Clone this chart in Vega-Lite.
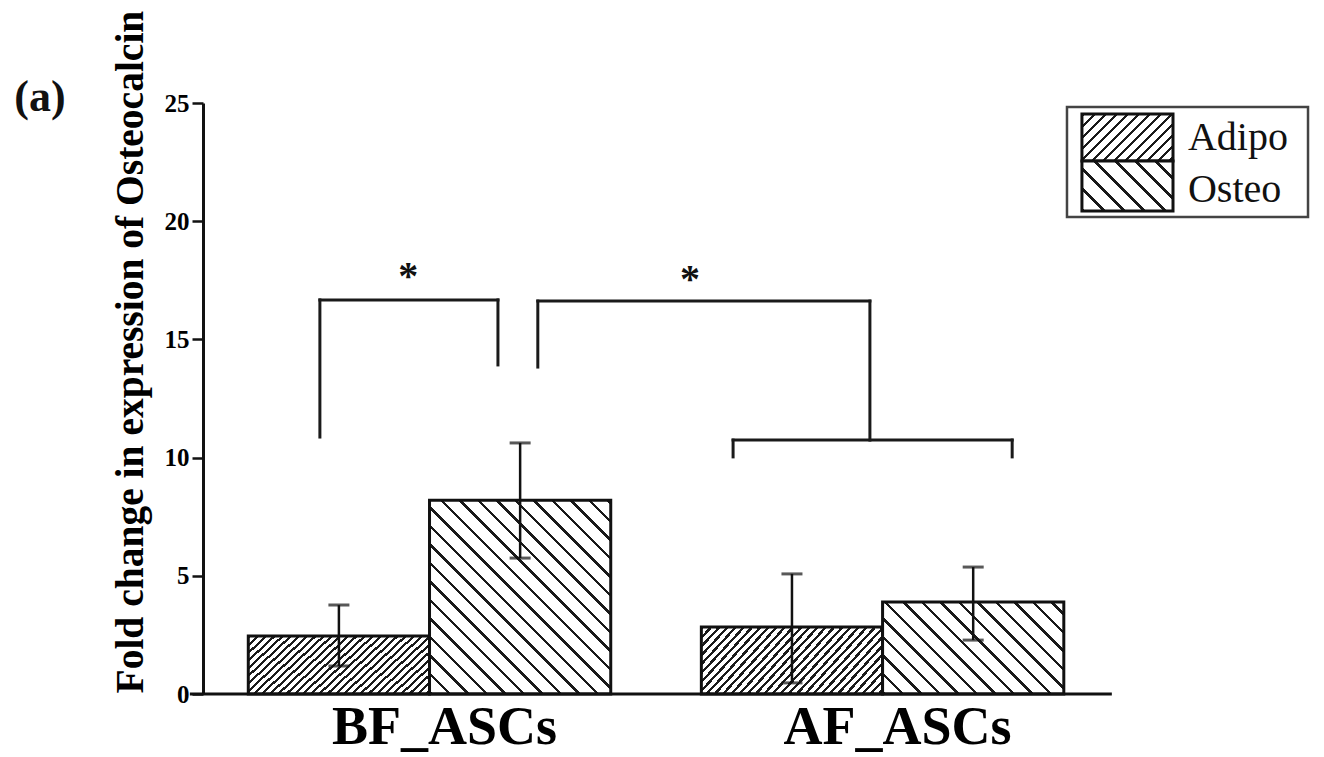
{
  "$schema": "https://vega.github.io/schema/vega-lite/v6.json",
  "width": 1110,
  "height": 591,
  "autosize": {"type": "none"},
  "padding": {"left": 203, "top": 103, "right": 11, "bottom": 63},
  "background": "white",
  "config": {"view": {"stroke": null}, "font": "Liberation Serif", "axis": {"grid": false}},
  "datasets": {
    "bars": [
      {"cond": "BF_ASCs", "group": "Adipo", "mean": 2.45, "lo": 1.18, "hi": 3.76},
      {"cond": "BF_ASCs", "group": "Osteo", "mean": 8.2, "lo": 5.75, "hi": 10.62},
      {"cond": "AF_ASCs", "group": "Adipo", "mean": 2.83, "lo": 0.47, "hi": 5.08},
      {"cond": "AF_ASCs", "group": "Osteo", "mean": 3.89, "lo": 2.28, "hi": 5.37}
    ],
    "brackets": [
      {"x": 0.758, "x2": 0.758, "y": 10.87, "y2": 16.67},
      {"x": 0.758, "x2": 1.151, "y": 16.67, "y2": 16.67},
      {"x": 1.151, "x2": 1.151, "y": 16.67, "y2": 13.92},
      {"x": 1.239, "x2": 1.239, "y": 13.83, "y2": 16.62},
      {"x": 1.239, "x2": 1.972, "y": 16.62, "y2": 16.62},
      {"x": 1.972, "x2": 1.972, "y": 16.62, "y2": 10.74},
      {"x": 1.670, "x2": 2.286, "y": 10.74, "y2": 10.74},
      {"x": 1.670, "x2": 1.670, "y": 10.74, "y2": 10.03},
      {"x": 2.286, "x2": 2.286, "y": 10.74, "y2": 10.03}
    ],
    "stars": [
      {"x": 0.953, "y": 17.15, "t": "*"},
      {"x": 1.575, "y": 17.0, "t": "*"}
    ]
  },
  "resolve": {"scale": {"x": "independent"}, "axis": {"x": "independent", "y": "independent"}},
  "layer": [
    {
      "data": {"name": "bars"},
      "transform": [{"filter": "datum.group == 'Adipo'"}],
      "mark": {"type": "bar", "stroke": "#111", "strokeWidth": 3, "fill": {"gradient": "linear", "x1": 0, "y1": 0, "x2": 1.2153, "y2": 0.4158, "stops": [
        {"offset": 0, "color": "#1a1a1a"}, {"offset": 0.013, "color": "#1a1a1a"}, {"offset": 0.013, "color": "#fff"},
        {"offset": 0.03333, "color": "#fff"}, {"offset": 0.03333, "color": "#1a1a1a"}, {"offset": 0.04633, "color": "#1a1a1a"}, {"offset": 0.04633, "color": "#fff"},
        {"offset": 0.06667, "color": "#fff"}, {"offset": 0.06667, "color": "#1a1a1a"}, {"offset": 0.07967, "color": "#1a1a1a"}, {"offset": 0.07967, "color": "#fff"},
        {"offset": 0.1, "color": "#fff"}, {"offset": 0.1, "color": "#1a1a1a"}, {"offset": 0.113, "color": "#1a1a1a"}, {"offset": 0.113, "color": "#fff"},
        {"offset": 0.13333, "color": "#fff"}, {"offset": 0.13333, "color": "#1a1a1a"}, {"offset": 0.14633, "color": "#1a1a1a"}, {"offset": 0.14633, "color": "#fff"},
        {"offset": 0.16667, "color": "#fff"}, {"offset": 0.16667, "color": "#1a1a1a"}, {"offset": 0.17967, "color": "#1a1a1a"}, {"offset": 0.17967, "color": "#fff"},
        {"offset": 0.2, "color": "#fff"}, {"offset": 0.2, "color": "#1a1a1a"}, {"offset": 0.213, "color": "#1a1a1a"}, {"offset": 0.213, "color": "#fff"},
        {"offset": 0.23333, "color": "#fff"}, {"offset": 0.23333, "color": "#1a1a1a"}, {"offset": 0.24633, "color": "#1a1a1a"}, {"offset": 0.24633, "color": "#fff"},
        {"offset": 0.26667, "color": "#fff"}, {"offset": 0.26667, "color": "#1a1a1a"}, {"offset": 0.27967, "color": "#1a1a1a"}, {"offset": 0.27967, "color": "#fff"},
        {"offset": 0.3, "color": "#fff"}, {"offset": 0.3, "color": "#1a1a1a"}, {"offset": 0.313, "color": "#1a1a1a"}, {"offset": 0.313, "color": "#fff"},
        {"offset": 0.33333, "color": "#fff"}, {"offset": 0.33333, "color": "#1a1a1a"}, {"offset": 0.34633, "color": "#1a1a1a"}, {"offset": 0.34633, "color": "#fff"},
        {"offset": 0.36667, "color": "#fff"}, {"offset": 0.36667, "color": "#1a1a1a"}, {"offset": 0.37967, "color": "#1a1a1a"}, {"offset": 0.37967, "color": "#fff"},
        {"offset": 0.4, "color": "#fff"}, {"offset": 0.4, "color": "#1a1a1a"}, {"offset": 0.413, "color": "#1a1a1a"}, {"offset": 0.413, "color": "#fff"},
        {"offset": 0.43333, "color": "#fff"}, {"offset": 0.43333, "color": "#1a1a1a"}, {"offset": 0.44633, "color": "#1a1a1a"}, {"offset": 0.44633, "color": "#fff"},
        {"offset": 0.46667, "color": "#fff"}, {"offset": 0.46667, "color": "#1a1a1a"}, {"offset": 0.47967, "color": "#1a1a1a"}, {"offset": 0.47967, "color": "#fff"},
        {"offset": 0.5, "color": "#fff"}, {"offset": 0.5, "color": "#1a1a1a"}, {"offset": 0.513, "color": "#1a1a1a"}, {"offset": 0.513, "color": "#fff"},
        {"offset": 0.53333, "color": "#fff"}, {"offset": 0.53333, "color": "#1a1a1a"}, {"offset": 0.54633, "color": "#1a1a1a"}, {"offset": 0.54633, "color": "#fff"},
        {"offset": 0.56667, "color": "#fff"}, {"offset": 0.56667, "color": "#1a1a1a"}, {"offset": 0.57967, "color": "#1a1a1a"}, {"offset": 0.57967, "color": "#fff"},
        {"offset": 0.6, "color": "#fff"}, {"offset": 0.6, "color": "#1a1a1a"}, {"offset": 0.613, "color": "#1a1a1a"}, {"offset": 0.613, "color": "#fff"},
        {"offset": 0.63333, "color": "#fff"}, {"offset": 0.63333, "color": "#1a1a1a"}, {"offset": 0.64633, "color": "#1a1a1a"}, {"offset": 0.64633, "color": "#fff"},
        {"offset": 0.66667, "color": "#fff"}, {"offset": 0.66667, "color": "#1a1a1a"}, {"offset": 0.67967, "color": "#1a1a1a"}, {"offset": 0.67967, "color": "#fff"},
        {"offset": 0.7, "color": "#fff"}, {"offset": 0.7, "color": "#1a1a1a"}, {"offset": 0.713, "color": "#1a1a1a"}, {"offset": 0.713, "color": "#fff"},
        {"offset": 0.73333, "color": "#fff"}, {"offset": 0.73333, "color": "#1a1a1a"}, {"offset": 0.74633, "color": "#1a1a1a"}, {"offset": 0.74633, "color": "#fff"},
        {"offset": 0.76667, "color": "#fff"}, {"offset": 0.76667, "color": "#1a1a1a"}, {"offset": 0.77967, "color": "#1a1a1a"}, {"offset": 0.77967, "color": "#fff"},
        {"offset": 0.8, "color": "#fff"}, {"offset": 0.8, "color": "#1a1a1a"}, {"offset": 0.813, "color": "#1a1a1a"}, {"offset": 0.813, "color": "#fff"},
        {"offset": 0.83333, "color": "#fff"}, {"offset": 0.83333, "color": "#1a1a1a"}, {"offset": 0.84633, "color": "#1a1a1a"}, {"offset": 0.84633, "color": "#fff"},
        {"offset": 0.86667, "color": "#fff"}, {"offset": 0.86667, "color": "#1a1a1a"}, {"offset": 0.87967, "color": "#1a1a1a"}, {"offset": 0.87967, "color": "#fff"},
        {"offset": 0.9, "color": "#fff"}, {"offset": 0.9, "color": "#1a1a1a"}, {"offset": 0.913, "color": "#1a1a1a"}, {"offset": 0.913, "color": "#fff"},
        {"offset": 0.93333, "color": "#fff"}, {"offset": 0.93333, "color": "#1a1a1a"}, {"offset": 0.94633, "color": "#1a1a1a"}, {"offset": 0.94633, "color": "#fff"},
        {"offset": 0.96667, "color": "#fff"}, {"offset": 0.96667, "color": "#1a1a1a"}, {"offset": 0.97967, "color": "#1a1a1a"}, {"offset": 0.97967, "color": "#fff"},
        {"offset": 1, "color": "#fff"}
      ]}},
      "encoding": {
        "x": {"field": "cond", "type": "nominal", "scale": {"domain": ["BF_ASCs", "AF_ASCs"], "paddingInner": 0.2, "paddingOuter": 0.325, "align": 0.1538, "round": false},
          "axis": {"title": null, "domain": false, "ticks": false, "tickSize": 0, "labelAngle": 0, "labelFont": "Liberation Serif", "labelFontSize": 54, "labelFontWeight": "bold", "labelColor": "#000", "labelPadding": 6, "labelOffset": 15, "labelLimit": 0, "labelOverlap": false, "labelBound": false, "labelFlush": false}},
        "xOffset": {"field": "group", "type": "nominal", "scale": {"domain": ["Adipo", "Osteo"], "paddingInner": 0, "paddingOuter": 0}},
        "y": {"field": "mean", "type": "quantitative", "scale": {"domain": [0, 25], "nice": false},
          "axis": {"title": "Fold change in expression of Osteocalcin", "values": [0, 5, 10, 15, 20, 25], "titleFont": "Liberation Serif", "titleFontSize": 39.5, "titleFontWeight": "bold", "titleColor": "#000", "titleAngle": 270, "titleX": -73, "titleY": 590, "titleAlign": "left", "titleBaseline": "middle", "titleLimit": 0,
            "labelFont": "Liberation Serif", "labelFontSize": 25, "labelFontWeight": "bold", "labelColor": "#000", "labelPadding": 3, "tickSize": 11, "tickWidth": 2.5, "tickColor": "#111", "domainColor": "#111", "domainWidth": 3}}
      }
    },
    {
      "data": {"name": "bars"},
      "transform": [{"filter": "datum.group == 'Osteo' && datum.cond == 'BF_ASCs'"}],
      "mark": {"type": "bar", "stroke": "#111", "strokeWidth": 3, "fill": {"gradient": "linear", "x1": 0, "y1": 1, "x2": 1.0, "y2": -0.0695, "stops": [
        {"offset": 0, "color": "#1a1a1a"}, {"offset": 0.0095, "color": "#1a1a1a"}, {"offset": 0.0095, "color": "#fff"},
        {"offset": 0.04762, "color": "#fff"}, {"offset": 0.04762, "color": "#1a1a1a"}, {"offset": 0.05712, "color": "#1a1a1a"}, {"offset": 0.05712, "color": "#fff"},
        {"offset": 0.09524, "color": "#fff"}, {"offset": 0.09524, "color": "#1a1a1a"}, {"offset": 0.10474, "color": "#1a1a1a"}, {"offset": 0.10474, "color": "#fff"},
        {"offset": 0.14286, "color": "#fff"}, {"offset": 0.14286, "color": "#1a1a1a"}, {"offset": 0.15236, "color": "#1a1a1a"}, {"offset": 0.15236, "color": "#fff"},
        {"offset": 0.19048, "color": "#fff"}, {"offset": 0.19048, "color": "#1a1a1a"}, {"offset": 0.19998, "color": "#1a1a1a"}, {"offset": 0.19998, "color": "#fff"},
        {"offset": 0.2381, "color": "#fff"}, {"offset": 0.2381, "color": "#1a1a1a"}, {"offset": 0.2476, "color": "#1a1a1a"}, {"offset": 0.2476, "color": "#fff"},
        {"offset": 0.28571, "color": "#fff"}, {"offset": 0.28571, "color": "#1a1a1a"}, {"offset": 0.29521, "color": "#1a1a1a"}, {"offset": 0.29521, "color": "#fff"},
        {"offset": 0.33333, "color": "#fff"}, {"offset": 0.33333, "color": "#1a1a1a"}, {"offset": 0.34283, "color": "#1a1a1a"}, {"offset": 0.34283, "color": "#fff"},
        {"offset": 0.38095, "color": "#fff"}, {"offset": 0.38095, "color": "#1a1a1a"}, {"offset": 0.39045, "color": "#1a1a1a"}, {"offset": 0.39045, "color": "#fff"},
        {"offset": 0.42857, "color": "#fff"}, {"offset": 0.42857, "color": "#1a1a1a"}, {"offset": 0.43807, "color": "#1a1a1a"}, {"offset": 0.43807, "color": "#fff"},
        {"offset": 0.47619, "color": "#fff"}, {"offset": 0.47619, "color": "#1a1a1a"}, {"offset": 0.48569, "color": "#1a1a1a"}, {"offset": 0.48569, "color": "#fff"},
        {"offset": 0.52381, "color": "#fff"}, {"offset": 0.52381, "color": "#1a1a1a"}, {"offset": 0.53331, "color": "#1a1a1a"}, {"offset": 0.53331, "color": "#fff"},
        {"offset": 0.57143, "color": "#fff"}, {"offset": 0.57143, "color": "#1a1a1a"}, {"offset": 0.58093, "color": "#1a1a1a"}, {"offset": 0.58093, "color": "#fff"},
        {"offset": 0.61905, "color": "#fff"}, {"offset": 0.61905, "color": "#1a1a1a"}, {"offset": 0.62855, "color": "#1a1a1a"}, {"offset": 0.62855, "color": "#fff"},
        {"offset": 0.66667, "color": "#fff"}, {"offset": 0.66667, "color": "#1a1a1a"}, {"offset": 0.67617, "color": "#1a1a1a"}, {"offset": 0.67617, "color": "#fff"},
        {"offset": 0.71429, "color": "#fff"}, {"offset": 0.71429, "color": "#1a1a1a"}, {"offset": 0.72379, "color": "#1a1a1a"}, {"offset": 0.72379, "color": "#fff"},
        {"offset": 0.7619, "color": "#fff"}, {"offset": 0.7619, "color": "#1a1a1a"}, {"offset": 0.7714, "color": "#1a1a1a"}, {"offset": 0.7714, "color": "#fff"},
        {"offset": 0.80952, "color": "#fff"}, {"offset": 0.80952, "color": "#1a1a1a"}, {"offset": 0.81902, "color": "#1a1a1a"}, {"offset": 0.81902, "color": "#fff"},
        {"offset": 0.85714, "color": "#fff"}, {"offset": 0.85714, "color": "#1a1a1a"}, {"offset": 0.86664, "color": "#1a1a1a"}, {"offset": 0.86664, "color": "#fff"},
        {"offset": 0.90476, "color": "#fff"}, {"offset": 0.90476, "color": "#1a1a1a"}, {"offset": 0.91426, "color": "#1a1a1a"}, {"offset": 0.91426, "color": "#fff"},
        {"offset": 0.95238, "color": "#fff"}, {"offset": 0.95238, "color": "#1a1a1a"}, {"offset": 0.96188, "color": "#1a1a1a"}, {"offset": 0.96188, "color": "#fff"},
        {"offset": 1, "color": "#fff"}
      ]}},
      "encoding": {
        "x": {"field": "cond", "type": "nominal", "scale": {"domain": ["BF_ASCs", "AF_ASCs"], "paddingInner": 0.2, "paddingOuter": 0.325, "align": 0.1538, "round": false}, "axis": null},
        "xOffset": {"field": "group", "type": "nominal", "scale": {"domain": ["Adipo", "Osteo"], "paddingInner": 0, "paddingOuter": 0}},
        "y": {"field": "mean", "type": "quantitative", "scale": {"domain": [0, 25], "nice": false}, "axis": null}
      }
    },
    {
      "data": {"name": "bars"},
      "transform": [{"filter": "datum.group == 'Osteo' && datum.cond == 'AF_ASCs'"}],
      "mark": {"type": "bar", "stroke": "#111", "strokeWidth": 3, "fill": {"gradient": "linear", "x1": 0, "y1": 1, "x2": 1.2176, "y2": 0.3818, "stops": [
        {"offset": 0, "color": "#1a1a1a"}, {"offset": 0.0133, "color": "#1a1a1a"}, {"offset": 0.0133, "color": "#fff"},
        {"offset": 0.06667, "color": "#fff"}, {"offset": 0.06667, "color": "#1a1a1a"}, {"offset": 0.07997, "color": "#1a1a1a"}, {"offset": 0.07997, "color": "#fff"},
        {"offset": 0.13333, "color": "#fff"}, {"offset": 0.13333, "color": "#1a1a1a"}, {"offset": 0.14663, "color": "#1a1a1a"}, {"offset": 0.14663, "color": "#fff"},
        {"offset": 0.2, "color": "#fff"}, {"offset": 0.2, "color": "#1a1a1a"}, {"offset": 0.2133, "color": "#1a1a1a"}, {"offset": 0.2133, "color": "#fff"},
        {"offset": 0.26667, "color": "#fff"}, {"offset": 0.26667, "color": "#1a1a1a"}, {"offset": 0.27997, "color": "#1a1a1a"}, {"offset": 0.27997, "color": "#fff"},
        {"offset": 0.33333, "color": "#fff"}, {"offset": 0.33333, "color": "#1a1a1a"}, {"offset": 0.34663, "color": "#1a1a1a"}, {"offset": 0.34663, "color": "#fff"},
        {"offset": 0.4, "color": "#fff"}, {"offset": 0.4, "color": "#1a1a1a"}, {"offset": 0.4133, "color": "#1a1a1a"}, {"offset": 0.4133, "color": "#fff"},
        {"offset": 0.46667, "color": "#fff"}, {"offset": 0.46667, "color": "#1a1a1a"}, {"offset": 0.47997, "color": "#1a1a1a"}, {"offset": 0.47997, "color": "#fff"},
        {"offset": 0.53333, "color": "#fff"}, {"offset": 0.53333, "color": "#1a1a1a"}, {"offset": 0.54663, "color": "#1a1a1a"}, {"offset": 0.54663, "color": "#fff"},
        {"offset": 0.6, "color": "#fff"}, {"offset": 0.6, "color": "#1a1a1a"}, {"offset": 0.6133, "color": "#1a1a1a"}, {"offset": 0.6133, "color": "#fff"},
        {"offset": 0.66667, "color": "#fff"}, {"offset": 0.66667, "color": "#1a1a1a"}, {"offset": 0.67997, "color": "#1a1a1a"}, {"offset": 0.67997, "color": "#fff"},
        {"offset": 0.73333, "color": "#fff"}, {"offset": 0.73333, "color": "#1a1a1a"}, {"offset": 0.74663, "color": "#1a1a1a"}, {"offset": 0.74663, "color": "#fff"},
        {"offset": 0.8, "color": "#fff"}, {"offset": 0.8, "color": "#1a1a1a"}, {"offset": 0.8133, "color": "#1a1a1a"}, {"offset": 0.8133, "color": "#fff"},
        {"offset": 0.86667, "color": "#fff"}, {"offset": 0.86667, "color": "#1a1a1a"}, {"offset": 0.87997, "color": "#1a1a1a"}, {"offset": 0.87997, "color": "#fff"},
        {"offset": 0.93333, "color": "#fff"}, {"offset": 0.93333, "color": "#1a1a1a"}, {"offset": 0.94663, "color": "#1a1a1a"}, {"offset": 0.94663, "color": "#fff"},
        {"offset": 1, "color": "#fff"}
      ]}},
      "encoding": {
        "x": {"field": "cond", "type": "nominal", "scale": {"domain": ["BF_ASCs", "AF_ASCs"], "paddingInner": 0.2, "paddingOuter": 0.325, "align": 0.1538, "round": false}, "axis": null},
        "xOffset": {"field": "group", "type": "nominal", "scale": {"domain": ["Adipo", "Osteo"], "paddingInner": 0, "paddingOuter": 0}},
        "y": {"field": "mean", "type": "quantitative", "scale": {"domain": [0, 25], "nice": false}, "axis": null}
      }
    },
    {
      "data": {"name": "bars"},
      "mark": {"type": "rule", "stroke": "#111", "strokeWidth": 2.5},
      "encoding": {
        "x": {"field": "cond", "type": "nominal", "scale": {"domain": ["BF_ASCs", "AF_ASCs"], "paddingInner": 0.2, "paddingOuter": 0.325, "align": 0.1538, "round": false}, "axis": null},
        "xOffset": {"field": "group", "type": "nominal", "scale": {"domain": ["Adipo", "Osteo"], "paddingInner": 0, "paddingOuter": 0}},
        "y": {"field": "lo", "type": "quantitative", "scale": {"domain": [0, 25], "nice": false}, "axis": null},
        "y2": {"field": "hi"}
      }
    },
    {
      "data": {"name": "bars"},
      "mark": {"type": "tick", "orient": "horizontal", "size": 21, "thickness": 3, "color": "#111"},
      "encoding": {
        "x": {"field": "cond", "type": "nominal", "scale": {"domain": ["BF_ASCs", "AF_ASCs"], "paddingInner": 0.2, "paddingOuter": 0.325, "align": 0.1538, "round": false}, "axis": null},
        "xOffset": {"field": "group", "type": "nominal", "scale": {"domain": ["Adipo", "Osteo"], "paddingInner": 0, "paddingOuter": 0}},
        "y": {"field": "hi", "type": "quantitative", "scale": {"domain": [0, 25], "nice": false}, "axis": null}
      }
    },
    {
      "data": {"name": "bars"},
      "mark": {"type": "tick", "orient": "horizontal", "size": 21, "thickness": 3, "color": "#111"},
      "encoding": {
        "x": {"field": "cond", "type": "nominal", "scale": {"domain": ["BF_ASCs", "AF_ASCs"], "paddingInner": 0.2, "paddingOuter": 0.325, "align": 0.1538, "round": false}, "axis": null},
        "xOffset": {"field": "group", "type": "nominal", "scale": {"domain": ["Adipo", "Osteo"], "paddingInner": 0, "paddingOuter": 0}},
        "y": {"field": "lo", "type": "quantitative", "scale": {"domain": [0, 25], "nice": false}, "axis": null}
      }
    },
    {
      "data": {"values": [{}]},
      "mark": {"type": "rule", "stroke": "#111", "strokeWidth": 3},
      "encoding": {
        "x": {"datum": 0.471, "type": "quantitative", "scale": {"domain": [0.5, 2.95], "nice": false, "zero": false}, "axis": null},
        "x2": {"datum": 2.506},
        "y": {"datum": 0, "type": "quantitative", "scale": {"domain": [0, 25], "nice": false}, "axis": null}
      }
    },
    {
      "data": {"name": "brackets"},
      "mark": {"type": "rule", "stroke": "#1a1a1a", "strokeWidth": 3, "strokeCap": "square"},
      "encoding": {
        "x": {"field": "x", "type": "quantitative", "scale": {"domain": [0.5, 2.95], "nice": false, "zero": false}, "axis": null},
        "x2": {"field": "x2"},
        "y": {"field": "y", "type": "quantitative", "scale": {"domain": [0, 25], "nice": false}, "axis": null},
        "y2": {"field": "y2"}
      }
    },
    {
      "data": {"name": "stars"},
      "mark": {"type": "text", "font": "Liberation Serif", "fontSize": 40, "fontWeight": "bold", "color": "#111", "align": "center", "baseline": "alphabetic"},
      "encoding": {
        "x": {"field": "x", "type": "quantitative", "scale": {"domain": [0.5, 2.95], "nice": false, "zero": false}, "axis": null},
        "y": {"field": "y", "type": "quantitative", "scale": {"domain": [0, 25], "nice": false}, "axis": null},
        "text": {"field": "t"}
      }
    },
    {
      "data": {"values": [{}]},
      "mark": {"type": "rect", "fill": "#fff", "stroke": "#444", "strokeWidth": 2.5},
      "encoding": {
        "x": {"datum": 2.407, "type": "quantitative", "scale": {"domain": [0.5, 2.95], "nice": false, "zero": false}, "axis": null},
        "x2": {"datum": 2.939},
        "y": {"datum": 24.83, "type": "quantitative", "scale": {"domain": [0, 25], "nice": false}, "axis": null},
        "y2": {"datum": 20.18}
      }
    },
    {
      "data": {"values": [{}]},
      "mark": {"type": "rect", "stroke": "#111", "strokeWidth": 3, "fill": {"gradient": "linear", "x1": 0, "y1": 0, "x2": 1.2428, "y2": 0.6391, "stops": [
        {"offset": 0, "color": "#1a1a1a"}, {"offset": 0.027, "color": "#1a1a1a"}, {"offset": 0.027, "color": "#fff"},
        {"offset": 0.07692, "color": "#fff"}, {"offset": 0.07692, "color": "#1a1a1a"}, {"offset": 0.10392, "color": "#1a1a1a"}, {"offset": 0.10392, "color": "#fff"},
        {"offset": 0.15385, "color": "#fff"}, {"offset": 0.15385, "color": "#1a1a1a"}, {"offset": 0.18085, "color": "#1a1a1a"}, {"offset": 0.18085, "color": "#fff"},
        {"offset": 0.23077, "color": "#fff"}, {"offset": 0.23077, "color": "#1a1a1a"}, {"offset": 0.25777, "color": "#1a1a1a"}, {"offset": 0.25777, "color": "#fff"},
        {"offset": 0.30769, "color": "#fff"}, {"offset": 0.30769, "color": "#1a1a1a"}, {"offset": 0.33469, "color": "#1a1a1a"}, {"offset": 0.33469, "color": "#fff"},
        {"offset": 0.38462, "color": "#fff"}, {"offset": 0.38462, "color": "#1a1a1a"}, {"offset": 0.41162, "color": "#1a1a1a"}, {"offset": 0.41162, "color": "#fff"},
        {"offset": 0.46154, "color": "#fff"}, {"offset": 0.46154, "color": "#1a1a1a"}, {"offset": 0.48854, "color": "#1a1a1a"}, {"offset": 0.48854, "color": "#fff"},
        {"offset": 0.53846, "color": "#fff"}, {"offset": 0.53846, "color": "#1a1a1a"}, {"offset": 0.56546, "color": "#1a1a1a"}, {"offset": 0.56546, "color": "#fff"},
        {"offset": 0.61538, "color": "#fff"}, {"offset": 0.61538, "color": "#1a1a1a"}, {"offset": 0.64238, "color": "#1a1a1a"}, {"offset": 0.64238, "color": "#fff"},
        {"offset": 0.69231, "color": "#fff"}, {"offset": 0.69231, "color": "#1a1a1a"}, {"offset": 0.71931, "color": "#1a1a1a"}, {"offset": 0.71931, "color": "#fff"},
        {"offset": 0.76923, "color": "#fff"}, {"offset": 0.76923, "color": "#1a1a1a"}, {"offset": 0.79623, "color": "#1a1a1a"}, {"offset": 0.79623, "color": "#fff"},
        {"offset": 0.84615, "color": "#fff"}, {"offset": 0.84615, "color": "#1a1a1a"}, {"offset": 0.87315, "color": "#1a1a1a"}, {"offset": 0.87315, "color": "#fff"},
        {"offset": 0.92308, "color": "#fff"}, {"offset": 0.92308, "color": "#1a1a1a"}, {"offset": 0.95008, "color": "#1a1a1a"}, {"offset": 0.95008, "color": "#fff"},
        {"offset": 1, "color": "#fff"}
      ]}},
      "encoding": {
        "x": {"datum": 2.44, "type": "quantitative", "scale": {"domain": [0.5, 2.95], "nice": false, "zero": false}, "axis": null},
        "x2": {"datum": 2.641},
        "y": {"datum": 24.53, "type": "quantitative", "scale": {"domain": [0, 25], "nice": false}, "axis": null},
        "y2": {"datum": 22.55}
      }
    },
    {
      "data": {"values": [{}]},
      "mark": {"type": "rect", "stroke": "#111", "strokeWidth": 3, "fill": {"gradient": "linear", "x1": 0, "y1": 1, "x2": 1.1975, "y2": 0.3407, "stops": [
        {"offset": 0, "color": "#1a1a1a"}, {"offset": 0.0286, "color": "#1a1a1a"}, {"offset": 0.0286, "color": "#fff"},
        {"offset": 0.14286, "color": "#fff"}, {"offset": 0.14286, "color": "#1a1a1a"}, {"offset": 0.17146, "color": "#1a1a1a"}, {"offset": 0.17146, "color": "#fff"},
        {"offset": 0.28571, "color": "#fff"}, {"offset": 0.28571, "color": "#1a1a1a"}, {"offset": 0.31431, "color": "#1a1a1a"}, {"offset": 0.31431, "color": "#fff"},
        {"offset": 0.42857, "color": "#fff"}, {"offset": 0.42857, "color": "#1a1a1a"}, {"offset": 0.45717, "color": "#1a1a1a"}, {"offset": 0.45717, "color": "#fff"},
        {"offset": 0.57143, "color": "#fff"}, {"offset": 0.57143, "color": "#1a1a1a"}, {"offset": 0.60003, "color": "#1a1a1a"}, {"offset": 0.60003, "color": "#fff"},
        {"offset": 0.71429, "color": "#fff"}, {"offset": 0.71429, "color": "#1a1a1a"}, {"offset": 0.74289, "color": "#1a1a1a"}, {"offset": 0.74289, "color": "#fff"},
        {"offset": 0.85714, "color": "#fff"}, {"offset": 0.85714, "color": "#1a1a1a"}, {"offset": 0.88574, "color": "#1a1a1a"}, {"offset": 0.88574, "color": "#fff"},
        {"offset": 1, "color": "#fff"}
      ]}},
      "encoding": {
        "x": {"datum": 2.44, "type": "quantitative", "scale": {"domain": [0.5, 2.95], "nice": false, "zero": false}, "axis": null},
        "x2": {"datum": 2.641},
        "y": {"datum": 22.55, "type": "quantitative", "scale": {"domain": [0, 25], "nice": false}, "axis": null},
        "y2": {"datum": 20.43}
      }
    },
    {
      "data": {"values": [{"label": "Adipo", "ly": 23.01}, {"label": "Osteo", "ly": 20.81}]},
      "mark": {"type": "text", "font": "Liberation Serif", "fontSize": 40, "color": "#111", "align": "left", "baseline": "alphabetic"},
      "encoding": {
        "x": {"datum": 2.674, "type": "quantitative", "scale": {"domain": [0.5, 2.95], "nice": false, "zero": false}, "axis": null},
        "y": {"field": "ly", "type": "quantitative", "scale": {"domain": [0, 25], "nice": false}, "axis": null},
        "text": {"field": "label"}
      }
    },
    {
      "data": {"values": [{"label": "(a)"}]},
      "mark": {"type": "text", "font": "Liberation Serif", "fontSize": 44, "fontWeight": "bold", "color": "#111", "align": "center", "baseline": "alphabetic"},
      "encoding": {
        "x": {"datum": 0.14, "type": "quantitative", "scale": {"domain": [0.5, 2.95], "nice": false, "zero": false}, "axis": null},
        "y": {"datum": 24.66, "type": "quantitative", "scale": {"domain": [0, 25], "nice": false}, "axis": null},
        "text": {"field": "label"}
      }
    }
  ]
}
